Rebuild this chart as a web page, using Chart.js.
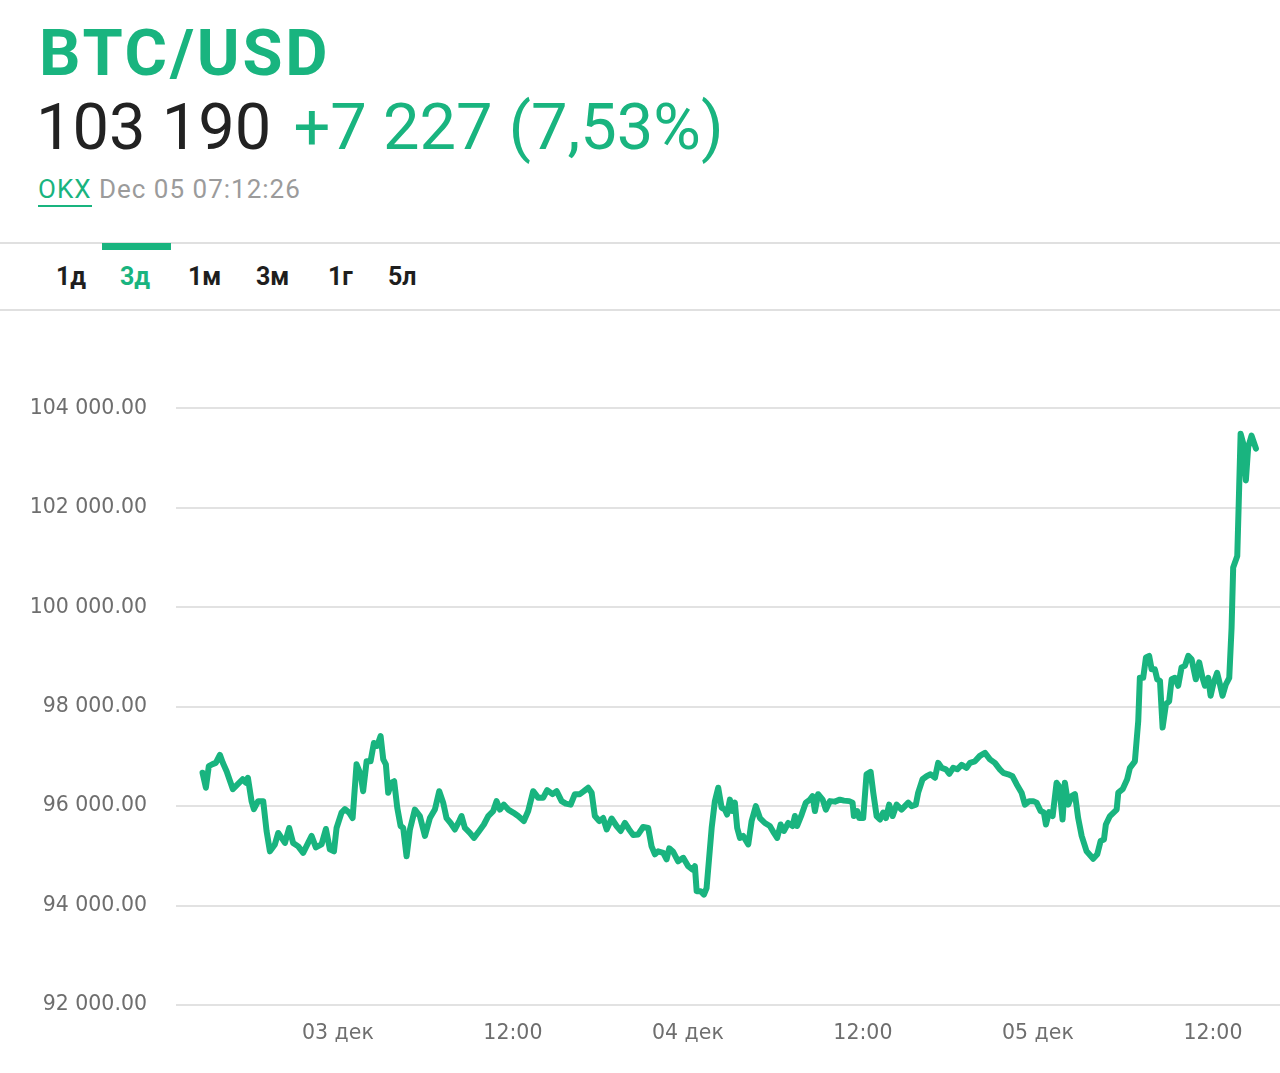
<!DOCTYPE html>
<html>
<head>
<meta charset="utf-8">
<script src="https://cdn.jsdelivr.net/npm/chart.js@4.4.0/dist/chart.umd.min.js"></script>
<style>
  html, body { margin: 0; padding: 0; background: #fff; }
  body { width: 1280px; height: 1073px; position: relative; overflow: hidden; font-family: Roboto, "Noto Sans", sans-serif; }
  .abs { position: absolute; white-space: nowrap; line-height: 1; }
  #title { left: 39px; top: 21px; font-size: 65px; font-weight: 700; color: #19b47f; letter-spacing: 2.8px; }
  #price { left: 36px; top: 95px; font-size: 65px; color: #222; }
  #price .chg { color: #19b47f; margin-left: 6px; }
  #source { left: 38px; top: 176px; font-size: 26px; color: #9b9b9b; letter-spacing: 1px; }
  #source .okx { color: #19b47f; border-bottom: 2px solid #19b47f; padding-bottom: 1px; }
  .line { position: absolute; left: 0; width: 1280px; height: 2px; background: #e0e0e0; }
  #indicator { position: absolute; left: 102px; top: 243px; width: 69px; height: 7px; background: #19b47f; }
  .tab { position: absolute; top: 264px; font-size: 25px; font-weight: 700; color: #1e1e1e; line-height: 1; }
  .tab.on { color: #19b47f; }
  #chart { position: absolute; left: 0; top: 367px; }
</style>
</head>
<body>
<div id="title" class="abs">BTC/USD</div>
<div id="price" class="abs">103 190<span class="chg"> +7 227 (7,53%)</span></div>
<div id="source" class="abs"><span class="okx">OKX</span> Dec 05 07:12:26</div>
<div class="line" style="top:242px"></div>
<div id="indicator"></div>
<div class="tab" style="left:56px">1д</div>
<div class="tab on" style="left:120px">3д</div>
<div class="tab" style="left:188px">1м</div>
<div class="tab" style="left:256px">3м</div>
<div class="tab" style="left:328px">1г</div>
<div class="tab" style="left:388px">5л</div>
<div class="line" style="top:309px"></div>
<canvas id="chart" width="1280" height="703"></canvas>
<script>
// hours since 03 дек 00:00
const times = [
  -9.28, -9.05, -8.85, -8.59, -8.37, -8.09, -7.89, -7.63, -7.20, -6.86, -6.53, -6.31, -6.17, -5.92, -5.76, -5.47,
  -5.12, -4.89, -4.66, -4.32, -4.09, -3.86, -3.63, -3.34, -3.07, -2.72, -2.38, -2.04, -1.80, -1.51, -1.12, -0.82,
  -0.55, -0.27, -0.09, 0.25, 0.48, 0.77, 1.01, 1.28, 1.56, 1.73, 1.97, 2.24, 2.47, 2.69, 2.93, 3.11,
  3.29, 3.45, 3.68, 3.86, 4.07, 4.30, 4.48, 4.71, 4.94, 5.28, 5.62, 5.97, 6.31, 6.65, 6.95, 7.22,
  7.45, 7.73, 8.02, 8.32, 8.48, 8.71, 9.05, 9.33, 9.69, 10.01, 10.31, 10.65, 10.88, 11.11, 11.38, 11.68,
  12.02, 12.36, 12.75, 13.05, 13.39, 13.73, 14.08, 14.35, 14.72, 15.00, 15.34, 15.63, 15.96, 16.25, 16.59, 16.87,
  17.16, 17.40, 17.62, 17.92, 18.19, 18.43, 18.77, 19.11, 19.39, 19.68, 19.97, 20.25, 20.59, 20.93, 21.28, 21.51,
  21.74, 21.96, 22.31, 22.54, 22.72, 22.99, 23.33, 23.68, 24.02, 24.32, 24.48, 24.60, 24.87, 25.10, 25.28, 25.63,
  25.85, 26.08, 26.31, 26.54, 26.69, 26.88, 27.04, 27.22, 27.38, 27.57, 27.79, 28.14, 28.37, 28.66, 28.94, 29.28,
  29.62, 29.90, 30.12, 30.36, 30.58, 30.88, 31.18, 31.34, 31.49, 31.80, 32.09, 32.37, 32.55, 32.71, 32.93, 33.24,
  33.46, 33.74, 34.08, 34.42, 34.70, 35.06, 35.29, 35.38, 35.61, 35.75, 36.02, 36.25, 36.53, 36.71, 36.94, 37.17,
  37.39, 37.58, 37.80, 38.04, 38.31, 38.65, 38.88, 39.11, 39.34, 39.63, 39.79, 40.09, 40.37, 40.64, 40.94, 41.16,
  41.40, 41.69, 41.92, 42.19, 42.47, 42.77, 43.11, 43.34, 43.68, 44.02, 44.37, 44.71, 45.05, 45.39, 45.62, 45.96,
  46.26, 46.54, 46.88, 47.11, 47.40, 47.68, 47.91, 48.19, 48.41, 48.55, 48.77, 49.01, 49.28, 49.46, 49.69, 49.85,
  50.08, 50.31, 50.54, 50.76, 51.00, 51.34, 51.79, 52.07, 52.30, 52.53, 52.66, 52.94, 53.40, 53.51, 53.81, 54.12,
  54.31, 54.65, 54.88, 54.99, 55.22, 55.41, 55.63, 55.80, 56.02, 56.18, 56.37, 56.55, 56.78, 57.00, 57.17, 57.39,
  57.62, 57.85, 58.08, 58.31, 58.54, 58.83, 59.06, 59.29, 59.45, 59.68, 59.84, 60.02, 60.29, 60.48, 60.66, 60.89,
  61.12, 61.28, 61.39, 61.67, 61.80, 61.90, 62.08, 62.26, 62.42, 62.65, 62.95
];

const prices = [
  96670, 96370, 96805, 96845, 96870, 97030, 96870, 96700, 96340, 96440, 96540, 96470, 96570, 96100, 95940, 96100,
  96100, 95500, 95090, 95230, 95460, 95360, 95260, 95560, 95260, 95190, 95060, 95260, 95400, 95170, 95230, 95540,
  95130, 95090, 95560, 95870, 95940, 95870, 95760, 96840, 96640, 96300, 96900, 96900, 97270, 97210, 97410, 96940,
  96840, 96270, 96470, 96500, 95970, 95600, 95560, 94990, 95530, 95930, 95800, 95400, 95760, 95930, 96300, 96070,
  95760, 95660, 95530, 95700, 95800, 95560, 95460, 95360, 95500, 95630, 95800, 95900, 96100, 95930, 96030, 95930,
  95870, 95800, 95700, 95900, 96300, 96170, 96170, 96320, 96240, 96300, 96100, 96050, 96030, 96240, 96240, 96300,
  96370, 96270, 95800, 95700, 95760, 95530, 95750, 95600, 95500, 95660, 95530, 95420, 95430, 95580, 95560, 95190,
  95030, 95090, 95060, 94930, 95150, 95080, 94890, 94960, 94790, 94720, 94790, 94290, 94290, 94220, 94350, 95560,
  96100, 96370, 95970, 95930, 95830, 96130, 95900, 96070, 95560, 95360, 95400, 95230, 95700, 96000, 95760, 95660,
  95600, 95460, 95360, 95630, 95500, 95660, 95600, 95800, 95600, 95830, 96070, 96130, 96200, 95900, 96240, 96130,
  95930, 96100, 96090, 96130, 96110, 96100, 96070, 95800, 95900, 95760, 95760, 96640, 96690, 96270, 95800, 95730,
  95870, 95760, 96030, 95800, 96030, 95930, 96000, 96070, 96000, 96030, 96270, 96540, 96600, 96640, 96570, 96870,
  96770, 96740, 96650, 96770, 96740, 96830, 96770, 96870, 96900, 97010, 97070, 96940, 96870, 96740, 96670, 96640,
  96600, 96440, 96270, 96030, 96100, 96100, 96070, 95900, 95870, 95630, 95880, 95800, 96470, 96400, 95730, 96470,
  96030, 96200, 96240, 95760, 95400, 95090, 94940, 95030, 95300, 95330, 95630, 95800, 95930, 96270, 96340, 96540,
  96770, 96900, 97710, 98580, 98580, 98990, 99020, 98750, 98750, 98550, 98520, 97580, 98050, 98110, 98550, 98580,
  98420, 98790, 98820, 99020, 98950, 98550, 98890, 98580, 98420, 98580, 98220, 98450, 98680, 98450, 98220, 98450,
  98580, 99590, 100800, 101030, 102410, 103490, 103290, 102550, 103220, 103450, 103190
];

const xTickValues = [0, 12, 24, 36, 48, 60];
const xTickLabels = ['03 дек', '12:00', '04 дек', '12:00', '05 дек', '12:00'];
const yTicks = [92000, 94000, 96000, 98000, 100000, 102000, 104000];

const green = '#19b47f';
const tickFont = { family: '"DejaVu Sans", sans-serif', size: 20.5 };

function fmtPrice(v) {
    return String(v).replace(/\B(?=(\d{3})+(?!\d))/g, ' ') + '.00';
}

new Chart(document.getElementById('chart'), {
    type: 'line',
    data: {
        datasets: [{
            data: times.map((t, i) => ({ x: t, y: prices[i] })),
            borderColor: green,
            borderWidth: 6,
            pointRadius: 0,
            tension: 0,
            borderJoinStyle: 'round',
            borderCapStyle: 'round'
        }]
    },
    options: {
        responsive: false,
        animation: false,
        devicePixelRatio: 1,
        layout: { padding: { top: 14, right: 0, left: 0, bottom: 0 } },
        plugins: { legend: { display: false }, tooltip: { enabled: false } },
        scales: {
            x: {
                type: 'linear',
                min: -11.1,
                max: 64.6,
                grid: { display: false },
                border: { display: false },
                afterBuildTicks: (scale) => { scale.ticks = xTickValues.map(v => ({ value: v })); },
                afterFit: (scale) => { scale.height = 65; },
                ticks: {
                    padding: 8,
                    color: '#6e6e6e',
                    font: tickFont,
                    maxRotation: 0,
                    callback: (v) => xTickLabels[xTickValues.indexOf(v)]
                }
            },
            y: {
                min: yTicks[0],
                max: yTicks[yTicks.length - 1],
                afterBuildTicks: (scale) => { scale.ticks = yTicks.map(v => ({ value: v })); },
                afterFit: (scale) => { scale.width = 176; },
                grid: { color: '#e2e2e2', lineWidth: 2, drawTicks: false },
                border: { display: false },
                ticks: {
                    padding: 29,
                    color: '#6e6e6e',
                    font: tickFont,
                    callback: (v) => fmtPrice(v)
                }
            }
        }
    }
});
</script>
</body>
</html>
